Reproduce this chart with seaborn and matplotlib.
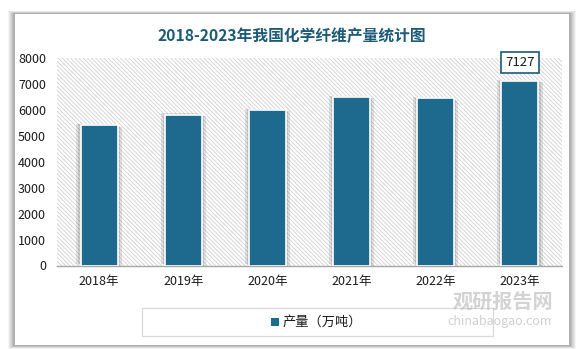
import matplotlib
matplotlib.use("Agg")
import matplotlib.pyplot as plt
import matplotlib.patheffects as pe
from matplotlib.patches import Rectangle
import seaborn as sns
import pandas as pd

# 2018-2023 chemical fibre output (10k tonnes)
years = ["2018年", "2019年", "2020年", "2021年", "2022年", "2023年"]
output = [5420, 5820, 6010, 6510, 6460, 7127]
yticks = [0, 1000, 2000, 3000, 4000, 5000, 6000, 7000, 8000]
title = "2018-2023年我国化学纤维产量统计图"
series_name = "产量（万吨）"

BAR = "#1d6a8e"
TITLE_C = "#1d5a78"

sns.set_theme(style="white")
plt.rcParams["font.family"] = ["Noto Sans CJK SC", "DejaVu Sans"]
plt.rcParams["hatch.linewidth"] = 0.7
plt.rcParams["hatch.color"] = "#d6d6d6"

W, H = 583, 349
fig = plt.figure(figsize=(W / 100, H / 100), dpi=100)
fig.patch.set_facecolor("white")

def fx(x):
    return x / W

def fy(y):
    return 1 - y / H

# soft shadow around the white card
for i, a in enumerate([0.04, 0.05, 0.05, 0.06, 0.07, 0.08]):
    g = 7 - i
    fig.patches.append(Rectangle((fx(15 - g), fy(345 + g * 0.5)), fx(554 + 2 * g), (331 + g) / H,
                                 transform=fig.transFigure, facecolor="black", alpha=a,
                                 edgecolor="none", zorder=0))
fig.patches.append(Rectangle((fx(15), fy(345)), fx(554), 331 / H, transform=fig.transFigure,
                             facecolor="white", edgecolor="none", zorder=1))

fig.text(fx(292), fy(36), title, ha="center", va="center", fontsize=11.3,
         fontweight="bold", color=TITLE_C, zorder=3)

ax = fig.add_axes([fx(57), fy(265.5), fx(562 - 57), (265.5 - 58.4) / H])
ax.set_zorder(2)
ax.set_facecolor("none")

df = pd.DataFrame({"year": years, "output": output})
sns.barplot(data=df, x="year", y="output", color=BAR, width=0.44, saturation=1,
            edgecolor="white", linewidth=1.2, ax=ax, zorder=3)

# hatched plot background
ax.add_patch(Rectangle((0, 0), 1, 1, transform=ax.transAxes, facecolor="white",
                       hatch="\\" * 8, edgecolor="#d6d6d6", linewidth=0, zorder=0))

shadow = [pe.SimplePatchShadow(offset=(-3, 1), shadow_rgbFace="black", alpha=0.10),
          pe.SimplePatchShadow(offset=(3, -1), shadow_rgbFace="black", alpha=0.10),
          pe.SimplePatchShadow(offset=(-1.5, 0.5), shadow_rgbFace="black", alpha=0.10),
          pe.SimplePatchShadow(offset=(1.5, -0.5), shadow_rgbFace="black", alpha=0.10),
          pe.Normal()]
for p in ax.patches:
    if p.get_zorder() == 3:
        p.set_path_effects(shadow)

ax.set_ylim(0, 8000)
ax.set_xlim(-0.5, len(years) - 0.5)
ax.set_yticks(yticks)
ax.set_yticklabels([str(v) for v in yticks])
ax.set_xlabel("")
ax.set_ylabel("")
for s in ["top", "right", "left"]:
    ax.spines[s].set_visible(False)
ax.spines["bottom"].set_color("#a6a6a6")
ax.spines["bottom"].set_linewidth(1.0)
ax.tick_params(axis="y", length=0, pad=8, labelsize=9, labelcolor="#1a1a1a")
ax.tick_params(axis="x", length=0, pad=7, labelsize=9, labelcolor="#1a1a1a")

# value label on the latest year
ax.annotate(str(output[-1]), xy=(len(years) - 1, output[-1]), xytext=(0, 13),
            textcoords="offset points", ha="center", va="center", fontsize=9.5,
            color="#1a1a1a", zorder=5,
            bbox=dict(boxstyle="square,pad=0.3", facecolor="white", edgecolor=TITLE_C, linewidth=1.2))

# legend box
fig.patches.append(Rectangle((fx(142), fy(336)), fx(351), 28 / H, transform=fig.transFigure,
                             facecolor="white", edgecolor="#d9d9d9", linewidth=0.9, zorder=3))
fig.patches.append(Rectangle((fx(271), fy(326)), fx(8), 8 / H, transform=fig.transFigure,
                             facecolor=BAR, edgecolor="none", zorder=4))
fig.text(fx(283), fy(322), series_name, ha="left", va="center", fontsize=9.5,
         color="#1a1a1a", zorder=4)

# watermark
fig.text(fx(503), fy(301), "观研报告网", ha="center", va="center", fontsize=14.5,
         fontweight="bold", color="#b0b0b0", alpha=0.55, zorder=6)
fig.text(fx(500), fy(321), "chinabaogao.com", ha="center", va="center", fontsize=9,
         color="#b0b0b0", alpha=0.6, zorder=6)

fig.savefig("out.png", dpi=100)
